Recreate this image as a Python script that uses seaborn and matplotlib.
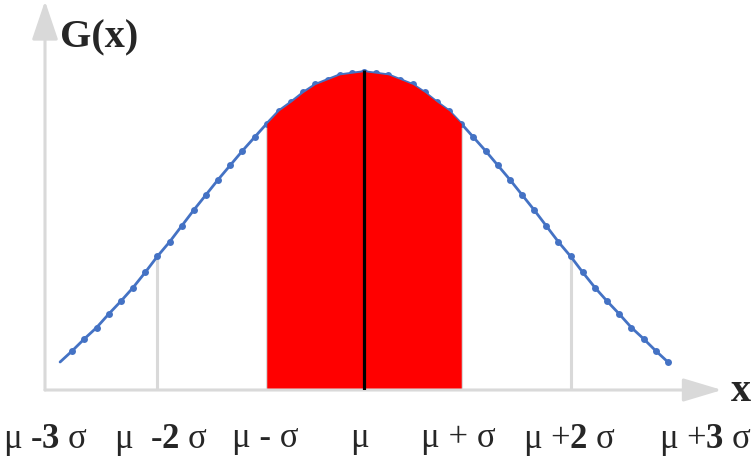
import numpy as np
import pandas as pd
import matplotlib
matplotlib.use("Agg")
import matplotlib.pyplot as plt
import seaborn as sns

# ---- data (x in sigma units, G scaled) ----
x_sigma = [round(-3 + 0.12 * i, 2) for i in range(51)]
g_left = [0.035, 0.049, 0.064, 0.078, 0.095, 0.111, 0.128, 0.147, 0.167, 0.185,
          0.205, 0.225, 0.244, 0.263, 0.281, 0.299, 0.316, 0.333, 0.349, 0.360,
          0.372, 0.382, 0.388, 0.394, 0.396]
g_peak = [0.398]
g_values = g_left + g_peak + g_left[::-1]

band_edges = [-0.96, 0.96]          # red area  (mu - sigma .. mu + sigma)
grey_lines = [-2.04, -0.96, 0.96, 2.04]
mean_line = [0.0]
tick_pos = [-3.14, -2.0, -0.97, -0.04, 0.93, 2.03, 3.37]
tick_labels = ["μ -$\\mathbf{3}$ σ", "μ  -$\\mathbf{2}$ σ", "μ - σ", "μ",
               "μ + σ", "μ +$\\mathbf{2}$ σ", "μ +$\\mathbf{3}$ σ"]

df = pd.DataFrame({"x": x_sigma, "G": g_values})

sns.set_theme(style="white")
plt.rcParams["font.family"] = ["Liberation Serif", "DejaVu Serif"]
plt.rcParams["mathtext.fontset"] = "custom"
plt.rcParams["mathtext.rm"] = "Liberation Serif"
plt.rcParams["mathtext.bf"] = "Liberation Serif:bold"
plt.rcParams["mathtext.it"] = "Liberation Serif:italic"

W, H = 756, 460
fig = plt.figure(figsize=(W / 100, H / 100), dpi=100)
ax = fig.add_axes([45 / W, (H - 391) / H, (722 - 45) / W, 391 / H])

xmin, xmax = (45 - 364) / 101.3, (722 - 364) / 101.3
ymax = 391 / 800
ax.set_xlim(xmin, xmax)
ax.set_ylim(0, ymax)

blue = "#4472C4"
grey = "#D9D9D9"

# grey reference lines
for gx in grey_lines:
    gy = np.interp(gx, x_sigma, g_values)
    ax.vlines(gx, 0, gy, color=grey, lw=2.2, zorder=1)

# curve with markers
sns.lineplot(data=df, x="x", y="G", ax=ax, color=blue, lw=2.0, marker="o",
             markersize=5, markeredgewidth=0, markevery=list(range(1, 51)), zorder=2)

# red filled area
xs = np.array(x_sigma)
gs = np.array(g_values)
mask = (xs >= band_edges[0] - 1e-9) & (xs <= band_edges[1] + 1e-9)
ax.fill_between(xs[mask], 0, gs[mask], color="#FF0000", lw=0, zorder=3)

# mean line
for mx in mean_line:
    ax.vlines(mx, 0, np.interp(mx, x_sigma, g_values) + 0.002, color="black", lw=2.3, zorder=4)

# axes as arrows
for s in ax.spines.values():
    s.set_visible(False)
ax.annotate("", xy=(xmax, 0), xytext=(xmin, 0), xycoords="data",
            arrowprops=dict(arrowstyle="-|>,head_length=0.8,head_width=0.24",
                            mutation_scale=30, color=grey, lw=2.2,
                            shrinkA=0, shrinkB=0),
            annotation_clip=False)
ax.annotate("", xy=(xmin, ymax - 2 / 800), xytext=(xmin, 0), xycoords="data",
            arrowprops=dict(arrowstyle="-|>,head_length=0.8,head_width=0.27",
                            mutation_scale=30, color=grey, lw=2.2,
                            shrinkA=0, shrinkB=0),
            annotation_clip=False)

ax.set_xticks(tick_pos)
ax.set_xticklabels(tick_labels, fontsize=25)
ax.tick_params(axis="x", length=0, pad=22)
ax.set_yticks([])
ax.set_xlabel("")
ax.set_ylabel("")

fig.text(60 / W, 1 - 38 / H, "G(x)", ha="left", va="center", fontsize=29,
         fontweight="bold")
fig.text(741 / W, 1 - 392 / H, "x", ha="center", va="center", fontsize=29,
         fontweight="bold")

fig.savefig("out.png", dpi=100)
